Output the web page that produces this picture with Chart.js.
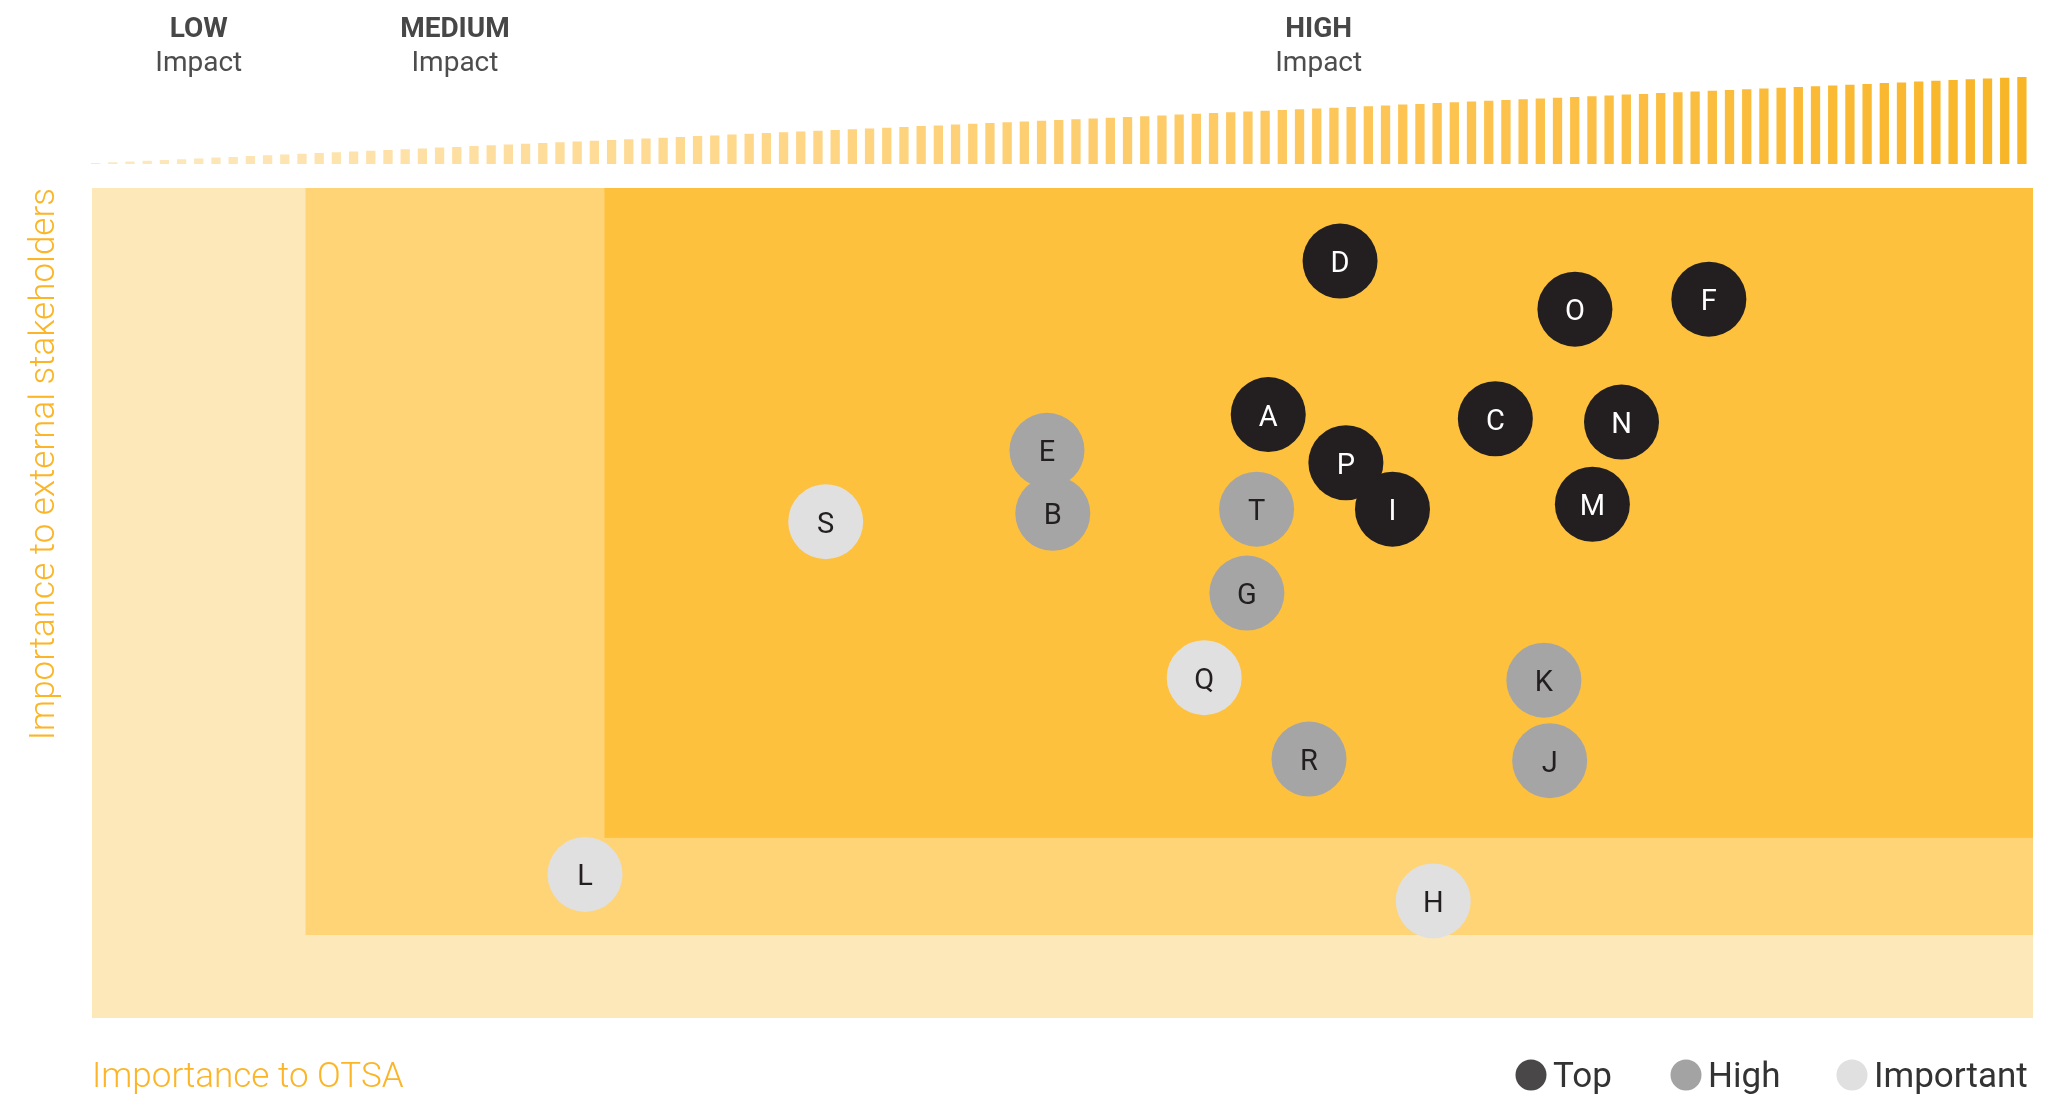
<!DOCTYPE html>
<html>
<head>
<meta charset="utf-8">
<script src="https://cdn.jsdelivr.net/npm/chart.js@4.4.1/dist/chart.umd.min.js"></script>
<style>
  html, body { margin: 0; padding: 0; background: #fff; }
  #wrap { position: relative; width: 2059px; height: 1097px; }
  #bubbleChart, #rampChart { position: absolute; left: 0; top: 0; }
</style>
</head>
<body>
<div id="wrap">
  <canvas id="bubbleChart" width="2059" height="1097"></canvas>
  <canvas id="rampChart" width="2059" height="170"></canvas>
</div>
<script>
// issues, grouped by priority (x = importance to OTSA, y = importance to external stakeholders)
const topLabels = ['D', 'O', 'F', 'A', 'C', 'N', 'P', 'I', 'M'];
const topX = [64.3, 76.4, 83.3, 60.6, 72.3, 78.8, 64.6, 67.0, 77.3];
const topY = [91.2, 85.4, 86.6, 72.7, 72.2, 71.8, 66.9, 61.3, 61.9];

const highLabels = ['E', 'B', 'T', 'G', 'K', 'J', 'R'];
const highX = [49.2, 49.5, 60.0, 59.5, 74.8, 75.1, 62.7];
const highY = [68.4, 60.8, 61.3, 51.2, 40.7, 31.0, 31.2];

const importantLabels = ['S', 'Q', 'H', 'L'];
const importantX = [37.8, 57.3, 69.1, 25.4];
const importantY = [59.8, 41.0, 14.1, 17.3];

const groupNames = ['Top', 'High', 'Important'];

// impact zones (where each zone starts on the two axes)
const zoneNames = ['LOW', 'MEDIUM', 'HIGH'];
const zoneXStart = [0, 11, 26.4];
const zoneYStart = [0, 10, 21.7];

// the rising bars above the chart
const rampValues = [
  1.0, 1.8, 2.5, 3.3, 4.1, 4.8, 5.6, 6.4, 7.1, 7.9,
  8.7, 9.4, 10.2, 11.0, 11.8, 12.5, 13.3, 14.1, 14.8, 15.6,
  16.4, 17.1, 17.9, 18.7, 19.4, 20.2, 21.0, 21.7, 22.5, 23.3,
  24.0, 24.8, 25.6, 26.3, 27.1, 27.9, 28.6, 29.4, 30.2, 31.0,
  31.7, 32.5, 33.3, 34.0, 34.8, 35.6, 36.3, 37.1, 37.9, 38.6,
  39.4, 40.2, 40.9, 41.7, 42.5, 43.2, 44.0, 44.8, 45.5, 46.3,
  47.1, 47.8, 48.6, 49.4, 50.2, 50.9, 51.7, 52.5, 53.2, 54.0,
  54.8, 55.5, 56.3, 57.1, 57.8, 58.6, 59.4, 60.1, 60.9, 61.7,
  62.4, 63.2, 64.0, 64.7, 65.5, 66.3, 67.0, 67.8, 68.6, 69.4,
  70.1, 70.9, 71.7, 72.4, 73.2, 74.0, 74.7, 75.5, 76.3, 77.0,
  77.8, 78.6, 79.3, 80.1, 80.9, 81.6, 82.4, 83.2, 83.9, 84.7,
  85.5, 86.2, 87.0
];

const zoneColors = ['#fde8b9', '#fed477', '#fdc13e'];
const bubbleColors = ['#231f20', '#a5a5a5', '#e1e0e1'];
const legendColors = ['#4a4748', '#a3a3a3', '#e1e0e1'];
const textColors = ['#ffffff', '#231f20', '#231f20'];
const orange = '#fbb527';

function toPoints(xs, ys) {
  return xs.map((x, i) => ({ x: x, y: ys[i], r: 37.5 }));
}

// colour ramp for the top bars, light on the left to deep yellow on the right
const rampStops = [[0, [253, 233, 192]], [0.27, [254, 219, 149]], [0.68, [253, 196, 83]], [1, [248, 181, 38]]];
function rampColor(t) {
  for (let s = 1; s < rampStops.length; s++) {
    if (t <= rampStops[s][0]) {
      const a = rampStops[s - 1], b = rampStops[s];
      const k = (t - a[0]) / (b[0] - a[0]);
      const c = a[1].map((v, j) => Math.round(v + (b[1][j] - v) * k));
      return 'rgb(' + c.join(',') + ')';
    }
  }
  return 'rgb(248,181,38)';
}

const zonePlugin = {
  id: 'zones',
  beforeDatasetsDraw(chart) {
    const ctx = chart.ctx;
    const xs = chart.scales.x, ys = chart.scales.y;
    const right = xs.getPixelForValue(100), top = ys.getPixelForValue(100);
    ctx.save();
    zoneXStart.forEach((x0, i) => {
      const left = xs.getPixelForValue(x0);
      const bottom = ys.getPixelForValue(zoneYStart[i]);
      ctx.fillStyle = zoneColors[i];
      ctx.fillRect(left, top, right - left, bottom - top);
    });

    // zone headings above the ramp
    ctx.textAlign = 'center';
    zoneNames.forEach((name, i) => {
      const x0 = xs.getPixelForValue(zoneXStart[i]);
      const x1 = i < zoneNames.length - 1 ? xs.getPixelForValue(zoneXStart[i + 1]) : right;
      const cx = (x0 + x1) / 2;
      ctx.fillStyle = '#474747';
      ctx.font = 'bold 28px Roboto';
      ctx.fillText(name, cx, 37);
      ctx.fillStyle = '#4d4d4d';
      ctx.font = '28px Roboto';
      ctx.fillText('Impact', cx, 71);
    });
    ctx.restore();
  },
  afterDatasetsDraw(chart) {
    const ctx = chart.ctx;
    ctx.save();
    ctx.font = '29px Roboto';
    ctx.textAlign = 'center';
    ctx.textBaseline = 'alphabetic';
    chart.data.datasets.forEach((ds, d) => {
      const meta = chart.getDatasetMeta(d);
      meta.data.forEach((el, i) => {
        ctx.fillStyle = textColors[d];
        ctx.fillText(ds.pointLabels[i], el.x, el.y + 11);
      });
    });

    // axis titles
    const area = chart.chartArea;
    ctx.fillStyle = orange;
    ctx.font = '300 35px Roboto';
    ctx.textAlign = 'left';
    ctx.fillText('Importance to OTSA', area.left, 1087);
    ctx.save();
    ctx.translate(54, area.top);
    ctx.rotate(-Math.PI / 2);
    ctx.textAlign = 'right';
    ctx.fillText('Importance to external stakeholders', 0, 0);
    ctx.restore();

    // legend
    const legendX = [1531, 1686, 1852];
    chart.data.datasets.forEach((ds, d) => {
      ctx.fillStyle = legendColors[d];
      ctx.beginPath();
      ctx.arc(legendX[d], 1075, 15.5, 0, Math.PI * 2);
      ctx.fill();
      ctx.fillStyle = '#333333';
      ctx.font = '35px Roboto';
      ctx.textAlign = 'left';
      ctx.fillText(ds.label, legendX[d] + 22, 1087);
    });
    ctx.restore();
  }
};

function makeBubbleChart() {
  const ctx = document.getElementById('bubbleChart').getContext('2d');
  const groups = [
    [topLabels, topX, topY],
    [highLabels, highX, highY],
    [importantLabels, importantX, importantY]
  ];
  new Chart(ctx, {
    type: 'bubble',
    data: {
      datasets: groups.map((g, d) => ({
        label: groupNames[d],
        data: toPoints(g[1], g[2]),
        pointLabels: g[0],
        backgroundColor: bubbleColors[d],
        borderWidth: 0,
        hoverBorderWidth: 0,
        clip: false
      }))
    },
    options: {
      responsive: false,
      animation: false,
      devicePixelRatio: 1,
      layout: { autoPadding: false, padding: { left: 92, right: 26, top: 188, bottom: 79 } },
      plugins: { legend: { display: false }, tooltip: { enabled: false } },
      scales: {
        x: { type: 'linear', min: 0, max: 100, display: false },
        y: { type: 'linear', min: 0, max: 100, display: false }
      }
    },
    plugins: [zonePlugin]
  });
}

function makeRampChart() {
  const ctx = document.getElementById('rampChart').getContext('2d');
  const n = rampValues.length;
  new Chart(ctx, {
    type: 'bar',
    data: {
      labels: rampValues.map((v, i) => String(i + 1)),
      datasets: [{
        data: rampValues,
        backgroundColor: rampValues.map((v, i) => rampColor(i / (n - 1))),
        borderWidth: 0,
        categoryPercentage: 1,
        barPercentage: 0.54
      }]
    },
    options: {
      responsive: false,
      animation: false,
      devicePixelRatio: 1,
      layout: { autoPadding: false, padding: { left: 87, right: 28.5, top: 77, bottom: 6 } },
      plugins: { legend: { display: false }, tooltip: { enabled: false } },
      scales: {
        x: { display: false },
        y: { display: false, min: 0, max: 87 }
      }
    }
  });
}

function start() {
  makeBubbleChart();
  makeRampChart();
}

if (document.fonts && document.fonts.load) {
  Promise.all([
    document.fonts.load('28px Roboto'),
    document.fonts.load('bold 28px Roboto'),
    document.fonts.load('300 35px Roboto')
  ]).then(start, start);
} else {
  start();
}
</script>
</body>
</html>
